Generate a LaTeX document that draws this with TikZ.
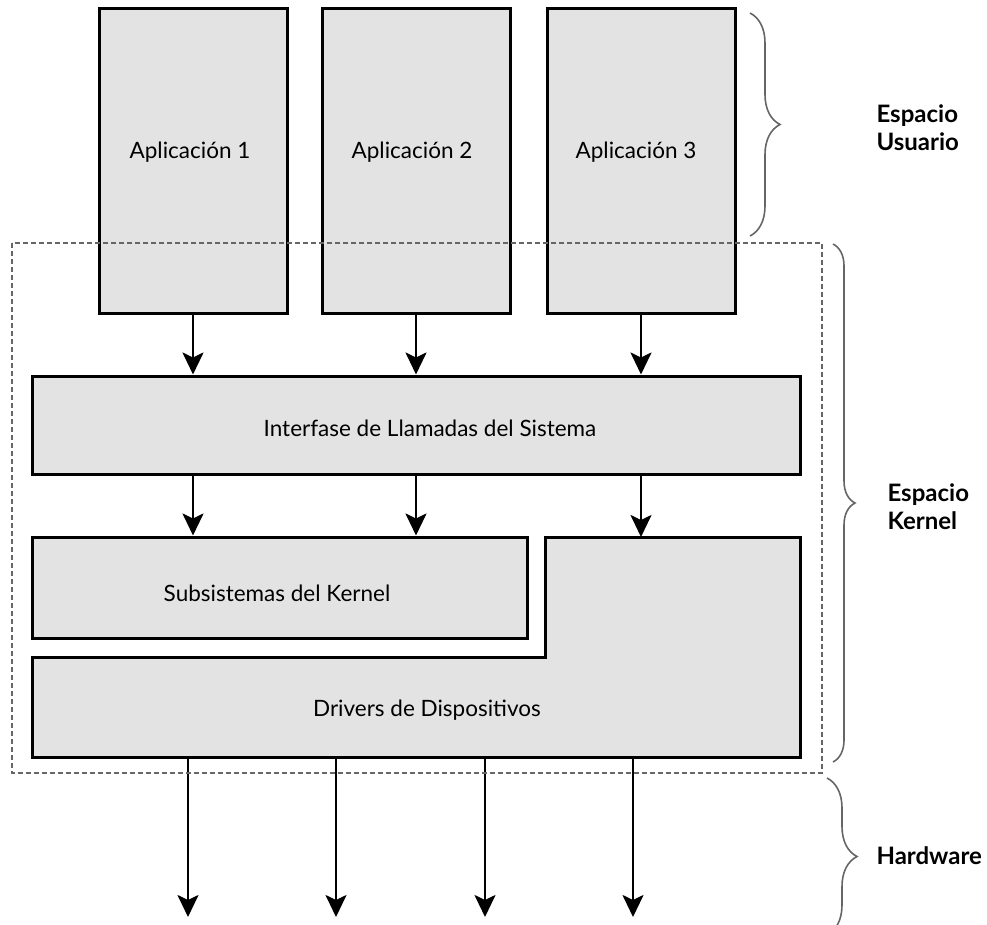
\documentclass[tikz,border=0pt]{standalone}
\usepackage{fontspec}
\setmainfont{Lato}
\usepackage{tikz}
\usetikzlibrary{arrows.meta,calc,positioning,decorations.pathreplacing}
\definecolor{boxgray}{HTML}{E3E3E3}
\definecolor{linegray}{HTML}{666666}
\tikzset{
  blk/.style={rectangle, draw, fill=boxgray, line width=3pt, inner sep=0pt},
  lbl/.style={font=\fontsize{22.5}{26}\selectfont},
  side/.style={font=\fontsize{24}{28}\selectfont\bfseries, align=left, anchor=west},
  flow/.style={line width=2.5pt, -{Stealth[length=22pt, width=21pt, inset=5pt]}},
  brc/.style={draw=linegray, line width=1.6pt, decorate},
  every picture/.style={line cap=butt, line join=miter}
}

\begin{document}
\begin{tikzpicture}[x=1pt, y=-1pt]
    \useasboundingbox (0,0) rectangle (987,925);

    % applications
    \node[blk, minimum width=188pt, minimum height=304pt] (A1) at (193,161) {};
    \node[blk, minimum width=188pt, minimum height=304pt] (A2) at (416,161) {};
    \node[blk, minimum width=188pt, minimum height=304pt] (A3) at (641,161) {};
    \node[lbl] at (190,152) {Aplicación 1};
    \node[lbl] at (412,152) {Aplicación 2};
    \node[lbl] at (636,152) {Aplicación 3};

    % system call interface and kernel subsystems
    \node[blk, minimum width=768pt, minimum height=98pt] (SCI) at (416,425) {};
    \node[lbl] at (430,428) {Interfase de Llamadas del Sistema};
    \node[blk, minimum width=495pt, minimum height=101pt] (KS) at (279.5,587.5) {};
    \node[lbl] at (277,593) {Subsistemas del Kernel};

    % device drivers (L shape)
    \coordinate (D1) at (32,657);
    \coordinate (D2) at (545,657);
    \coordinate (D3) at (545,537);
    \coordinate (D4) at (800,537);
    \coordinate (D5) at (800,757);
    \coordinate (D6) at (32,757);
    \draw[fill=boxgray, line width=3pt] (D1)--(D2)--(D3)--(D4)--(D5)--(D6)--cycle;
    \node[lbl] (DD) at (427,710) {Drivers de Dispositivos};

    % arrows
    \draw[flow] (A1.south) -- (A1.south |- SCI.north);
    \draw[flow] (A2.south) -- (A2.south |- SCI.north);
    \draw[flow] (A3.south) -- (A3.south |- SCI.north);
    \draw[flow] (SCI.south -| A1.south) -- (A1.south |- KS.north);
    \draw[flow] (SCI.south -| A2.south) -- (A2.south |- KS.north);
    \draw[flow] (SCI.south -| A3.south) -- (A3.south |- D4);
    \foreach \x [count=\i] in {188,336,485,633} {
      \coordinate (H\i) at (\x,917);
      \draw[flow] (\x,757) -- (H\i);
    }

    % kernel zone
    \draw[linegray, line width=1.6pt, dash pattern=on 5pt off 3pt] (12,243) rectangle (822,773);

    % braces
    \draw[brc, decoration={brace, amplitude=30pt}] (750,13) -- (750,236);
    \draw[brc, decoration={brace, amplitude=22pt}] (833,244) -- (833,762);
    \draw[brc, decoration={brace, amplitude=30pt}] (827,778) -- (827,935);
    \node[side] (US) at (873,128) {Espacio\\Usuario};
    \node[side] (KE) at (884,507) {Espacio\\Kernel};
    \node[side] (HW) at (873,856) {Hardware};
\end{tikzpicture}
\end{document}
